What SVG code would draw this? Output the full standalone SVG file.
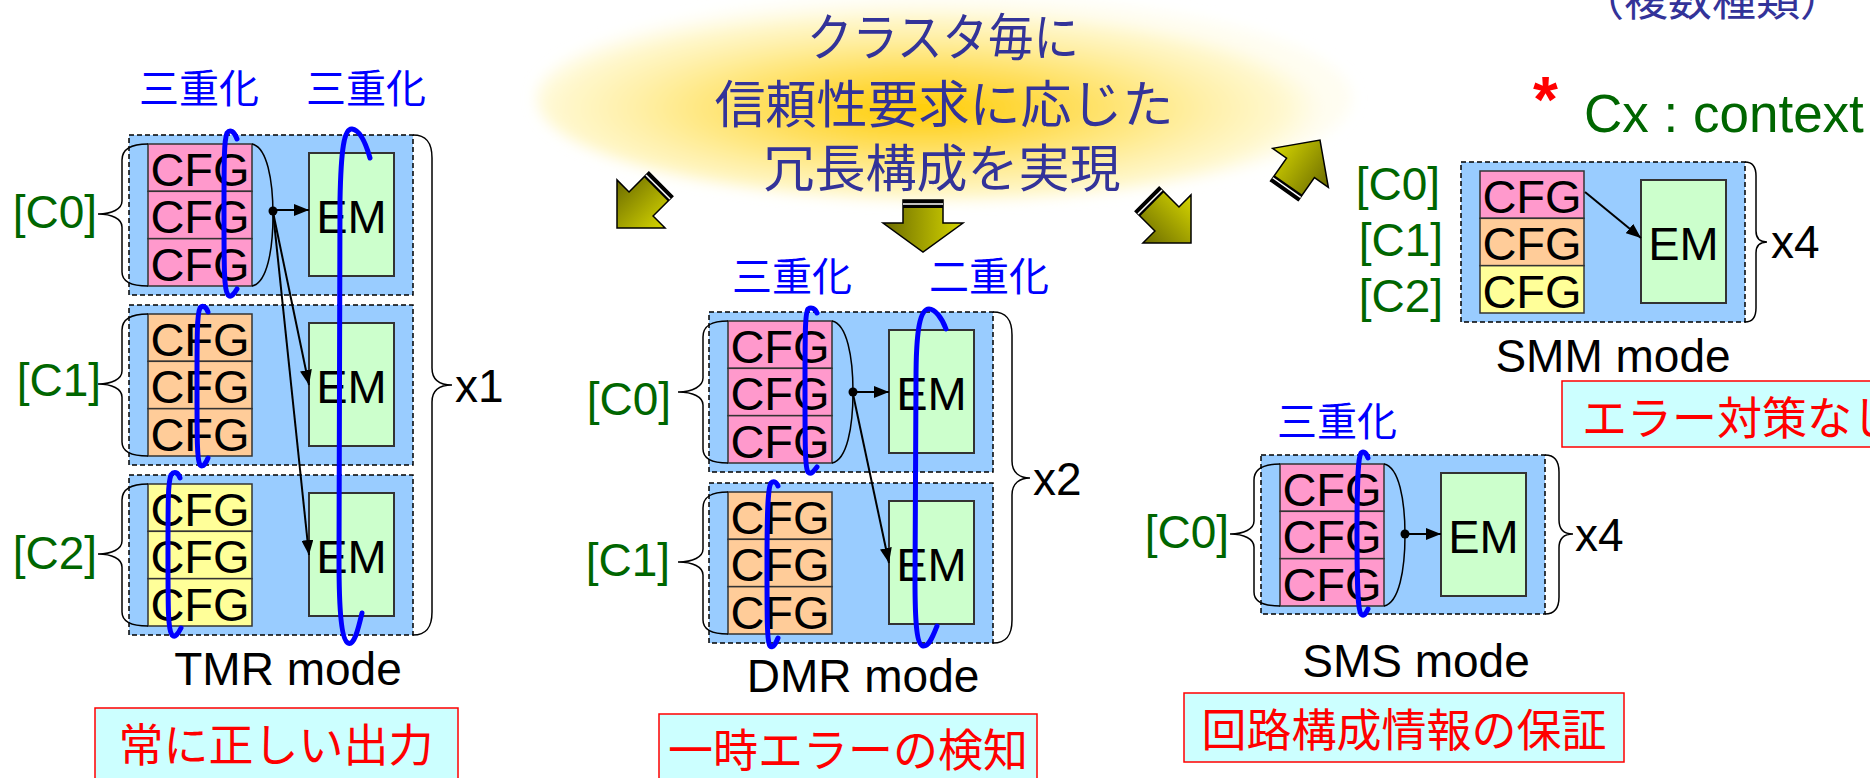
<svg xmlns="http://www.w3.org/2000/svg" width="1870" height="778" viewBox="0 0 1870 778">
<defs>
<style>
.panel{fill:#99CCFF;stroke:#000;stroke-width:1.5;stroke-dasharray:5 3}
.c0{fill:#FF99CC;stroke:#333;stroke-width:1.5}
.c1{fill:#FFCC99;stroke:#333;stroke-width:1.5}
.c2{fill:#FFFF99;stroke:#333;stroke-width:1.5}
.em{fill:#CCFFCC;stroke:#333;stroke-width:2}
.t{font-family:"Liberation Sans",Arial,sans-serif;font-size:47px;fill:#000}
.m{text-anchor:middle}
.e{text-anchor:end}
.ctx{font-family:"Liberation Sans",Arial,sans-serif;font-size:46px;fill:#006600;text-anchor:end}
.lbl{font-family:"Liberation Sans",Arial,sans-serif;font-size:46px;fill:#000}
.jp{font-family:"Noto Sans CJK JP","Noto Sans CJK SC",sans-serif}
.blue{fill:#0000FF;font-size:40px;text-anchor:middle}
.title{fill:#333399;font-size:51px;text-anchor:middle;font-weight:400}
.loop{fill:none;stroke:#0000FF;stroke-width:5;stroke-linecap:round}
.br{fill:none;stroke:#000;stroke-width:1.5}
.ar{stroke:#000;stroke-width:2;fill:none;marker-end:url(#ah)}
.rbox{fill:#CCFFFF;stroke:#FF0000;stroke-width:1.5}
.rt{fill:#FF0000;font-size:45px}
.barrow{fill:url(#olive);stroke:#000;stroke-width:1.5;stroke-linejoin:miter}
</style>
<marker id="ah" viewBox="0 0 15 12" refX="15" refY="6" markerWidth="15" markerHeight="12" markerUnits="userSpaceOnUse" orient="auto"><path d="M0,0 L15,6 L0,12 z" fill="#000"/></marker>
<linearGradient id="olive" x1="0" y1="0" x2="1" y2="0"><stop offset="0" stop-color="#6B6B00"/><stop offset="1" stop-color="#D6D600"/></linearGradient>
<radialGradient id="glow" cx="0.47" cy="0.55" r="0.5"><stop offset="0" stop-color="#FFCC00"/><stop offset="0.35" stop-color="#FFDD55"/><stop offset="0.7" stop-color="#FFF0A8"/><stop offset="0.9" stop-color="#FFF8D0"/><stop offset="1" stop-color="#FFFCE8" stop-opacity="0.6"/></radialGradient>
<filter id="blur" x="-10%" y="-20%" width="120%" height="140%"><feGaussianBlur stdDeviation="7"/></filter>
</defs>
<rect width="1870" height="778" fill="#FFFFFF"/>

<g id="title">
<ellipse cx="944" cy="98" rx="408" ry="102" fill="url(#glow)" filter="url(#blur)"/>
<text class="jp title" x="943" y="56" textLength="272" lengthAdjust="spacingAndGlyphs">クラスタ毎に</text>
<text class="jp title" x="944" y="123">信頼性要求に応じた</text>
<text class="jp title" x="942" y="187">冗長構成を実現</text>
</g>

<g id="top-note">
<text class="jp" x="1712" y="16" font-size="44" fill="#333399" text-anchor="middle">（複数種類）</text>
</g>

<g id="legend">
<text x="1533" y="122" font-family="Liberation Sans,Arial,sans-serif" font-size="64" font-weight="bold" fill="#FF0000">*</text>
<text x="1584" y="132" font-family="Liberation Sans,Arial,sans-serif" font-size="53" fill="#006600">Cx : context</text>
</g>

<g id="block-arrows">
<g transform="translate(617,228) rotate(45)">
<path class="barrow" d="M-17,-62 L17,-62 L17,-34 L34,-34 L0,0 L-34,-34 L-17,-34 Z"/>
<rect x="-17" y="-62" width="34" height="7" fill="#000"/><line x1="-17" y1="-58" x2="17" y2="-58" stroke="#fff" stroke-width="1.5"/>
</g>
<g transform="translate(923,252)">
<path class="barrow" d="M-20,-52 L20,-52 L20,-29 L40,-29 L0,0 L-40,-29 L-20,-29 Z"/>
<rect x="-20" y="-52" width="40" height="8" fill="#000"/><line x1="-20" y1="-48" x2="20" y2="-48" stroke="#fff" stroke-width="1.5"/>
</g>
<g transform="translate(1191,243) rotate(-45)">
<path class="barrow" d="M-17,-62 L17,-62 L17,-34 L34,-34 L0,0 L-34,-34 L-17,-34 Z"/>
<rect x="-17" y="-62" width="34" height="7" fill="#000"/><line x1="-17" y1="-58" x2="17" y2="-58" stroke="#fff" stroke-width="1.5"/>
</g>
<g transform="translate(1320,140) rotate(-145)">
<path class="barrow" d="M-17,-62 L17,-62 L17,-34 L34,-34 L0,0 L-34,-34 L-17,-34 Z"/>
<rect x="-17" y="-62" width="34" height="7" fill="#000"/><line x1="-17" y1="-58" x2="17" y2="-58" stroke="#fff" stroke-width="1.5"/>
</g>
</g>

<!-- TMR -->
<g id="tmr">
<text class="jp blue" x="199" y="103">三重化</text>
<text class="jp blue" x="366" y="103">三重化</text>
<g id="tmr-c0">
<rect class="panel" x="129" y="135" width="284" height="160"/>
<rect class="c0" x="148" y="144" width="104" height="47.33"/><rect class="c0" x="148" y="191.33" width="104" height="47.33"/><rect class="c0" x="148" y="238.67" width="104" height="47.33"/>
<text class="t m" x="200" y="186">CFG</text><text class="t m" x="200" y="233.3">CFG</text><text class="t m" x="200" y="280.7">CFG</text>
<rect class="em" x="309" y="153" width="85" height="123"/>
<text class="t m" x="351.5" y="233">EM</text>
<path class="br" d="M148,144 C134,144 122,147 122,160 L122,201 C122,209 112,214 98,214 C112,214 122,219 122,227 L122,272 C122,283 134,286 148,286"/>
<path class="br" d="M252,144 C267,147 273,180 273,215 C273,250 267,283 252,286"/>
<text class="ctx" x="97" y="228">[C0]</text>
</g>
<g id="tmr-c1">
<rect class="panel" x="129" y="305" width="284" height="160"/>
<rect class="c1" x="148" y="314" width="104" height="47.33"/><rect class="c1" x="148" y="361.33" width="104" height="47.33"/><rect class="c1" x="148" y="408.67" width="104" height="47.33"/>
<text class="t m" x="200" y="356">CFG</text><text class="t m" x="200" y="403.3">CFG</text><text class="t m" x="200" y="450.7">CFG</text>
<rect class="em" x="309" y="323" width="85" height="123"/>
<text class="t m" x="351.5" y="403">EM</text>
<path class="br" d="M148,314 C134,314 122,317 122,330 L122,371 C122,379 112,384 98,384 C112,384 122,389 122,397 L122,442 C122,453 134,456 148,456"/>
<text class="ctx" x="101" y="396">[C1]</text>
</g>
<g id="tmr-c2">
<rect class="panel" x="129" y="475" width="284" height="160"/>
<rect class="c2" x="148" y="484" width="104" height="47.33"/><rect class="c2" x="148" y="531.33" width="104" height="47.33"/><rect class="c2" x="148" y="578.67" width="104" height="47.33"/>
<text class="t m" x="200" y="526">CFG</text><text class="t m" x="200" y="573.3">CFG</text><text class="t m" x="200" y="620.7">CFG</text>
<rect class="em" x="309" y="493" width="85" height="123"/>
<text class="t m" x="351.5" y="573">EM</text>
<path class="br" d="M148,484 C134,484 122,487 122,500 L122,541 C122,549 112,554 98,554 C112,554 122,559 122,567 L122,612 C122,623 134,626 148,626"/>
<text class="ctx" x="97" y="569">[C2]</text>
</g>
<path class="br" d="M413,135 C426,135 432,142 432,158 L432,368 C432,380 440,385 452,385 C440,385 432,390 432,402 L432,612 C432,628 426,635 413,635"/>
<text class="lbl" x="455" y="402">x1</text>
<text class="lbl m" x="288" y="685">TMR mode</text>
</g>

<!-- DMR -->
<g id="dmr">
<text class="jp blue" x="792" y="291">三重化</text>
<text class="jp blue" x="989" y="291">二重化</text>
<g id="dmr-c0">
<rect class="panel" x="709" y="312" width="284" height="160"/>
<rect class="c0" x="728" y="321" width="104" height="47.33"/><rect class="c0" x="728" y="368.33" width="104" height="47.33"/><rect class="c0" x="728" y="415.67" width="104" height="47.33"/>
<text class="t m" x="780" y="363">CFG</text><text class="t m" x="780" y="410.3">CFG</text><text class="t m" x="780" y="457.7">CFG</text>
<rect class="em" x="889" y="330" width="85" height="123"/>
<text class="t m" x="931.5" y="410">EM</text>
<path class="br" d="M728,321 C714,321 703,324 703,337 L703,378 C703,386 693,392 678,392 C693,392 703,397 703,405 L703,449 C703,460 714,463 728,463"/>
<path class="br" d="M832,321 C847,324 853,357 853,392 C853,427 847,460 832,463"/>
<text class="ctx" x="671" y="415">[C0]</text>
</g>
<g id="dmr-c1">
<rect class="panel" x="709" y="483" width="284" height="160"/>
<rect class="c1" x="728" y="492" width="104" height="47.33"/><rect class="c1" x="728" y="539.33" width="104" height="47.33"/><rect class="c1" x="728" y="586.67" width="104" height="47.33"/>
<text class="t m" x="780" y="534">CFG</text><text class="t m" x="780" y="581.3">CFG</text><text class="t m" x="780" y="628.7">CFG</text>
<rect class="em" x="889" y="501" width="85" height="123"/>
<text class="t m" x="931.5" y="581">EM</text>
<path class="br" d="M728,492 C714,492 703,495 703,508 L703,549 C703,557 693,562 678,562 C693,562 703,567 703,575 L703,620 C703,631 714,634 728,634"/>
<text class="ctx" x="670" y="576">[C1]</text>
</g>
<path class="br" d="M993,312 C1006,312 1012,319 1012,335 L1012,461 C1012,473 1020,478 1030,478 C1020,478 1012,483 1012,495 L1012,620 C1012,636 1006,643 993,643"/>
<text class="lbl" x="1033" y="495">x2</text>
<text class="lbl m" x="863" y="692">DMR mode</text>
</g>

<!-- SMS -->
<g id="sms">
<text class="jp blue" x="1337" y="436">三重化</text>
<rect class="panel" x="1261" y="455" width="284" height="159"/>
<rect class="c0" x="1280" y="464" width="104" height="47.33"/><rect class="c0" x="1280" y="511.33" width="104" height="47.33"/><rect class="c0" x="1280" y="558.67" width="104" height="47.33"/>
<text class="t m" x="1332" y="506">CFG</text><text class="t m" x="1332" y="553.3">CFG</text><text class="t m" x="1332" y="600.7">CFG</text>
<rect class="em" x="1441" y="473" width="85" height="123"/>
<text class="t m" x="1483.5" y="553">EM</text>
<path class="br" d="M1280,464 C1266,464 1254,467 1254,480 L1254,521 C1254,529 1244,534 1230,534 C1244,534 1254,539 1254,547 L1254,592 C1254,603 1266,606 1280,606"/>
<path class="br" d="M1384,464 C1399,467 1405,500 1405,535 C1405,570 1399,603 1384,606"/>
<text class="ctx" x="1229" y="548">[C0]</text>
<path class="br" d="M1545,455 C1554,455 1559,460 1559,472 L1559,520 C1559,530 1565,534 1573,534 C1565,534 1559,538 1559,548 L1559,597 C1559,609 1554,614 1545,614"/>
<text class="lbl" x="1575" y="551">x4</text>
<text class="lbl m" x="1416" y="677">SMS mode</text>
</g>

<!-- SMM -->
<g id="smm">
<rect class="panel" x="1461" y="162" width="284" height="160"/>
<rect class="c0" x="1480" y="171" width="104" height="47.33"/><rect class="c1" x="1480" y="218.33" width="104" height="47.33"/><rect class="c2" x="1480" y="265.67" width="104" height="47.33"/>
<text class="t m" x="1532" y="213">CFG</text><text class="t m" x="1532" y="260.3">CFG</text><text class="t m" x="1532" y="307.7">CFG</text>
<rect class="em" x="1641" y="180" width="85" height="123"/>
<text class="t m" x="1683.5" y="260">EM</text>
<text class="ctx" x="1440" y="200">[C0]</text>
<text class="ctx" x="1443" y="256">[C1]</text>
<text class="ctx" x="1443" y="312">[C2]</text>
<path class="br" d="M1745,162 C1752,162 1756,166 1756,176 L1756,231 C1756,238 1760,242 1767,242 C1760,242 1756,246 1756,253 L1756,308 C1756,318 1752,322 1745,322"/>
<text class="lbl" x="1771" y="258">x4</text>
<text class="lbl m" x="1613" y="372">SMM mode</text>
</g>

<g id="connectors">
<path class="ar" d="M273,210 L309,210"/>
<path class="ar" d="M273,212 L309,385"/>
<path class="ar" d="M273,212 L309,555"/>
<path class="ar" d="M853,392 L889,392"/>
<path class="ar" d="M853,394 L889,563"/>
<path class="ar" d="M1405,534 L1441,534"/>
<path class="ar" d="M1585,192 L1641,238"/>
<circle cx="273" cy="211" r="4.5"/>
<circle cx="853" cy="392" r="4.5"/>
<circle cx="1405" cy="534" r="4.5"/>
</g>

<g id="loops">
<path class="loop" d="M237,139 C234,131 230,129 227,133 C224,140 224,160 224,215 C224,270 224,290 228,295 C231,298 234,294 237,289"/>
<path class="loop" d="M208,312 C206,306 202,305 200,308 C197,314 197,335 197,385 C197,440 197,460 200,465 C203,468 206,463 208,458"/>
<path class="loop" d="M180,478 C178,472 174,471 171,475 C168,482 168,500 168,555 C168,610 168,630 172,635 C175,638 178,634 181,628"/>
<path class="loop" d="M370,158 C366,144 360,130 352,129 C344,128 341,150 340,200 L339,560 C339,615 342,640 348,643 C354,646 358,630 362,613"/>
<path class="loop" d="M817,313 C815,308 811,307 808,309 C805,313 805,335 805,390 C805,445 805,468 808,472 C811,475 814,471 817,467"/>
<path class="loop" d="M778,486 C776,481 773,481 771,483 C768,487 767,510 767,565 C767,620 767,642 770,646 C773,649 776,643 778,638"/>
<path class="loop" d="M946,329 C942,318 935,309 929,309 C920,309 916,330 916,380 L915,580 C915,625 917,645 923,646 C929,647 933,636 937,626"/>
<path class="loop" d="M1368,458 C1366,452 1363,451 1361,453 C1358,458 1357,480 1357,533 C1357,590 1358,610 1361,614 C1364,617 1366,613 1368,609"/>
</g>

<g id="notes">
<rect class="rbox" x="95" y="708" width="363" height="90"/>
<text class="jp rt m" x="276" y="762">常に正しい出力</text>
<rect class="rbox" x="659" y="714" width="378" height="90"/>
<text class="jp rt m" x="848" y="767">一時エラーの検知</text>
<rect class="rbox" x="1184" y="693" width="440" height="69"/>
<text class="jp rt m" x="1404" y="747">回路構成情報の保証</text>
<rect class="rbox" x="1562" y="381" width="340" height="66"/>
<text class="jp rt" x="1582" y="435">エラー対策なし</text>
</g>
</svg>
